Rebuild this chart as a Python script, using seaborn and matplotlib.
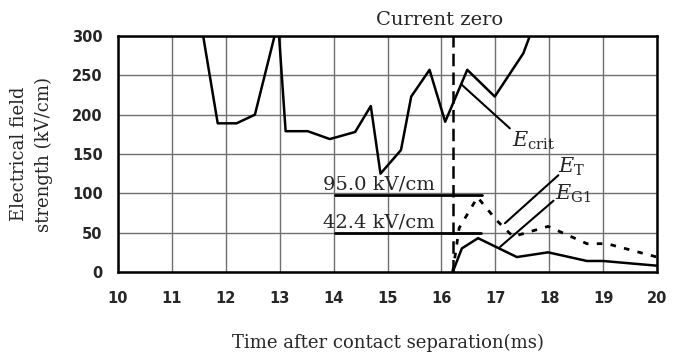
import matplotlib
matplotlib.use("Agg")
import matplotlib.pyplot as plt
import seaborn as sns
import pandas as pd

# ---- data ----
ecrit_t = [11.58, 11.85, 12.2, 12.54, 12.97, 13.11, 13.52, 13.93, 14.40, 14.69, 14.87, 15.25, 15.44, 15.78, 16.07, 16.48, 16.99, 17.52, 17.64]
ecrit_v = [300, 189, 189, 200, 318, 179, 179, 169, 178, 211, 125, 155, 223, 257, 191, 257, 223, 278, 300]

et_t = [16.21, 16.33, 16.67, 17.02, 17.33, 17.98, 18.70, 19.07, 20.0]
et_v = [0, 56, 95, 66, 45, 58, 36, 36, 19]

eg_t = [16.21, 16.38, 16.68, 17.40, 17.98, 18.70, 19.00, 20.0]
eg_v = [0, 30, 43, 19, 25, 14, 14, 8]

current_zero = 16.21
level_labels = ["95.0 kV/cm", "42.4 kV/cm"]
level_y = [98.2, 49.2]
x_ticks = list(range(10, 21))
y_ticks = [0, 50, 100, 150, 200, 250, 300]

sns.set_style("white")
plt.rcParams["mathtext.fontset"] = "dejavuserif"

fig = plt.figure(figsize=(6.79, 3.6), dpi=100)
ax = fig.add_axes([118/679, 1-272/360, (657-118)/679, (272-36)/360])

df_c = pd.DataFrame({"t": ecrit_t, "v": ecrit_v})
df_t = pd.DataFrame({"t": et_t, "v": et_v})
df_g = pd.DataFrame({"t": eg_t, "v": eg_v})

sns.lineplot(data=df_c, x="t", y="v", sort=False, estimator=None, color="black", lw=1.8, ax=ax)
sns.lineplot(data=df_g, x="t", y="v", sort=False, estimator=None, color="black", lw=1.8, ax=ax)
sns.lineplot(data=df_t, x="t", y="v", sort=False, estimator=None, color="black", lw=2.0,
             linestyle=(0, (2, 3)), ax=ax)

ax.axvline(current_zero, color="black", lw=1.8, linestyle=(0, (5, 2.5)))

# reference levels
ax.plot([14.03, 16.75], [level_y[0]]*2, color="black", lw=2)
ax.plot([14.03, 16.73], [level_y[1]]*2, color="black", lw=2)
ax.text(13.80, 105.5, level_labels[0], family="DejaVu Serif", fontsize=14, va="baseline", ha="left")
ax.text(13.80, 56, level_labels[1], family="DejaVu Serif", fontsize=14, va="baseline", ha="left")

# annotations
ax.plot([16.37, 17.27], [238.5, 182.6], color="black", lw=1.5)
ax.plot([17.18, 18.17], [62, 123], color="black", lw=1.5)
ax.plot([17.09, 18.08], [32, 90.6], color="black", lw=1.5)
ax.text(17.31, 159, r"$E_{\rm crit}$", fontsize=15, va="baseline", ha="left")
ax.text(18.16, 126, r"$E_{\rm T}$", fontsize=15, va="baseline", ha="left")
ax.text(18.11, 91.5, r"$E_{\rm G1}$", fontsize=15, va="baseline", ha="left")

fig.text(440/679, 1-25/360, "Current zero", family="DejaVu Serif", fontsize=14, ha="center", va="baseline")

ax.set_xlim(10, 20)
ax.set_ylim(0, 300)
ax.set_xticks(x_ticks)
ax.set_yticks(y_ticks)
ax.grid(True, color="#707070", lw=1)
ax.tick_params(axis="x", length=0, pad=14, labelsize=10.5)
ax.tick_params(axis="y", length=0, pad=11, labelsize=10.5)
for lab in ax.get_xticklabels() + ax.get_yticklabels():
    lab.set_family("DejaVu Sans")
    lab.set_fontweight("bold")
for s in ax.spines.values():
    s.set_color("black")
    s.set_linewidth(1.8)

ax.set_xlabel("Time after contact separation(ms)", family="DejaVu Serif", fontsize=13, labelpad=20)
ax.set_ylabel("Electrical field\nstrength (kV/cm)", family="DejaVu Serif", fontsize=13, labelpad=14, linespacing=1.45)

fig.savefig("out.png", dpi=100)
